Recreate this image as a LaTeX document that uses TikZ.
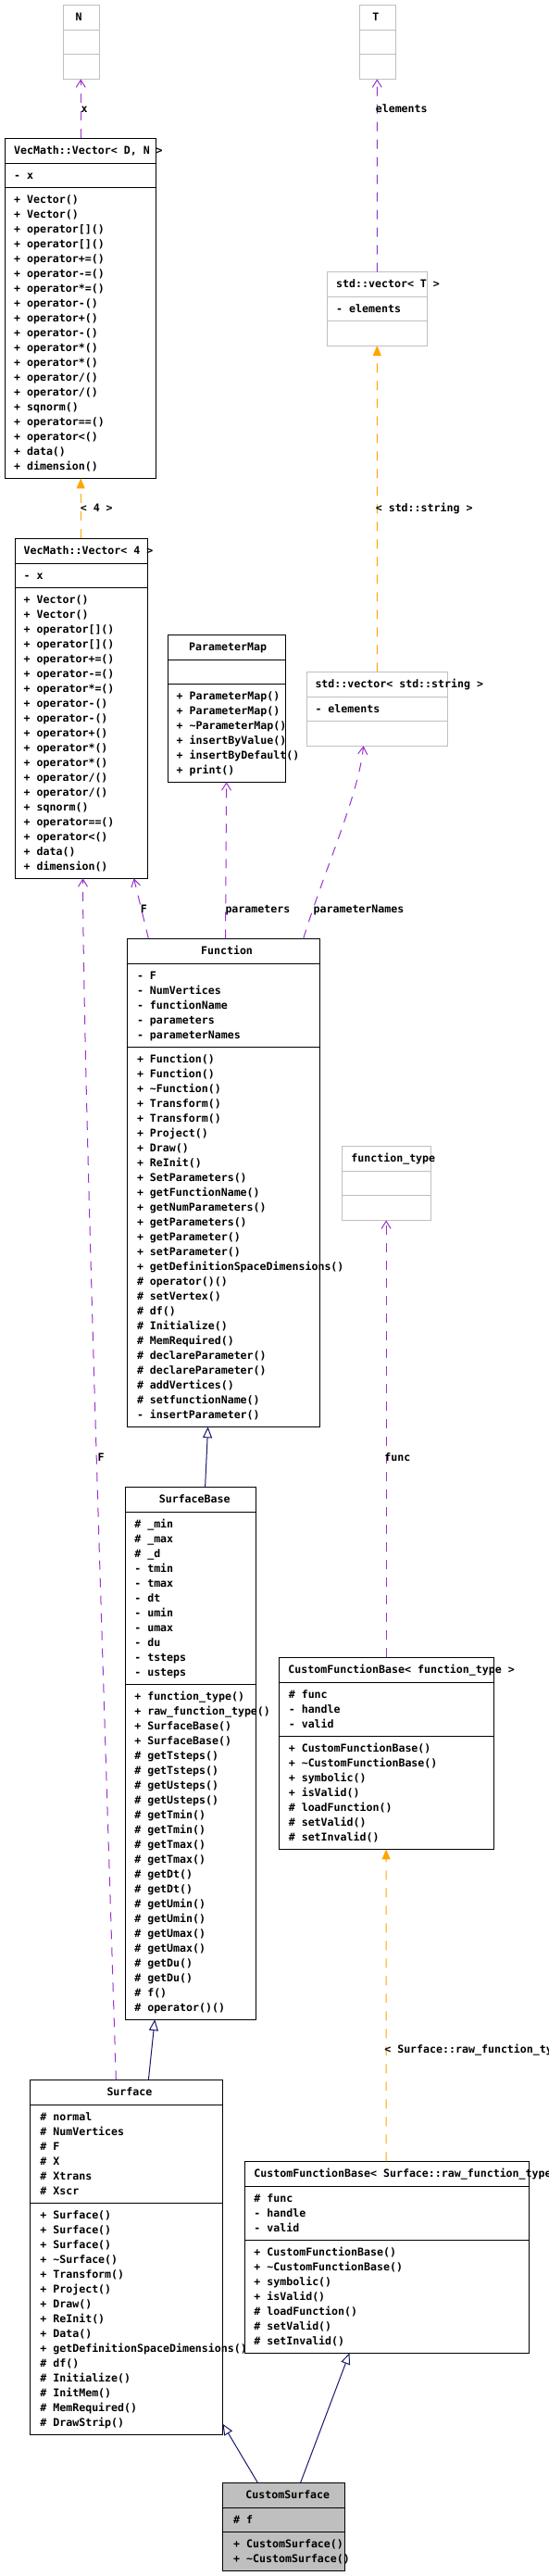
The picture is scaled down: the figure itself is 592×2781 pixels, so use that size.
\documentclass[tikz,border=0pt]{standalone}
\usepackage{fontspec}
\newfontfamily\dxfont{DejaVu Sans Mono Bold}
\usetikzlibrary{arrows.meta,calc}
\definecolor{dxpurple}{HTML}{9A32CD}
\definecolor{dxorange}{HTML}{FFA500}
\definecolor{dxnavy}{HTML}{191970}
\definecolor{dxgray}{HTML}{BFBFBF}
\tikzset{
  every node/.style={font=\dxfont\fontsize{11.6pt}{16pt}\selectfont, inner sep=0pt, outer sep=0pt},
  docbox/.style={draw=black, line width=1pt},
  extbox/.style={draw=dxgray, line width=1pt},
  curbox/.style={draw=black, fill=dxgray, line width=1pt},
  docsep/.style={draw=black, line width=1pt},
  extsep/.style={draw=dxgray, line width=1pt},
  cursep/.style={draw=black, line width=1pt},
  txt/.style={anchor=base west, text=black},
  uses/.style={draw=dxpurple, line width=1pt, dash pattern=on 10pt off 9pt, -{Straight Barb[length=8pt,width=10pt]}},
  tmpl/.style={draw=dxorange, line width=1pt, dash pattern=on 10pt off 9pt, -{Triangle[length=11pt,width=9pt]}},
  inh/.style={draw=dxnavy, line width=1pt, -{Triangle[open,length=12pt,width=10pt]}},
}
\newcommand\dxbox[8]{%
  \node[#2box, anchor=north west, minimum width={(#5)-(#3)}, minimum height={(#8)-(#4)}] (#1) at (#3,#4) {};
  \draw[#2sep] (#3,#6) -- (#5,#6);
  \draw[#2sep] (#3,#7) -- (#5,#7);
}
\newcommand\dxrows[4]{%
  \foreach \rowtext [count=\rowi from 0] in {#4} {\node[txt] (#1\rowi) at (#2,{#3+16*\rowi}) {\rowtext};}
}
\begin{document}
\begin{tikzpicture}[x=1pt,y=-1pt]
\useasboundingbox (0,0) rectangle (592,2781);
\clip (0,0) rectangle (592,2781);
\fill[white] (0,0) rectangle (592,2781);

% ---------- boxes ----------
\dxbox{nb}{ext}{68.3}{5.4}{107.6}{32.4}{58.4}{85.4}
\dxbox{tb}{ext}{388.4}{5.4}{427.3}{32.4}{58.4}{85.4}
\dxbox{vd}{doc}{5.3}{149.3}{168.4}{176.3}{202.4}{516.4}
\dxbox{svt}{ext}{353.3}{293.6}{461.3}{320.6}{346.6}{373.1}
\dxbox{vf}{doc}{16.2}{581.3}{159.7}{608.3}{634.3}{948.3}
\dxbox{pm}{doc}{181.2}{685.3}{308.4}{712.3}{738.3}{844.3}
\dxbox{svs}{ext}{331.4}{725.3}{483.2}{752.3}{778.3}{805.3}
\dxbox{fn}{doc}{137.4}{1013.3}{345.4}{1040.3}{1130.3}{1540.3}
\dxbox{ft}{ext}{369.2}{1237.5}{465.5}{1264.5}{1290.5}{1317.4}
\dxbox{sb}{doc}{135.5}{1605.2}{276.3}{1632.2}{1818.2}{2180.2}
\dxbox{cfa}{doc}{301.2}{1789.4}{533.4}{1816.4}{1874.4}{1996.4}
\dxbox{sf}{doc}{32.5}{2245.3}{240.5}{2272.3}{2378.3}{2628.3}
\dxbox{cfb}{doc}{264.3}{2333.3}{571.2}{2360.3}{2418.3}{2540.3}
\dxbox{cs}{cur}{240.8}{2680}{372.6}{2707}{2733}{2775.5}

% ---------- headers ----------
\node[txt] (nbh) at (81.5,22.4) {N};
\node[txt] (tbh) at (402.3,22.4) {T};
\node[txt] (vdh) at (15.1,166.3) {VecMath::Vector< D, N >};
\node[txt] (svth) at (363.2,310.6) {std::vector< T >};
\node[txt] (vfh) at (25.7,598.3) {VecMath::Vector< 4 >};
\node[txt] (pmh) at (204.2,702.3) {ParameterMap};
\node[txt] (svsh) at (340.5,742.3) {std::vector< std::string >};
\node[txt] (fnh) at (217.1,1030.3) {Function};
\node[txt] (fth) at (379.4,1254.5) {function\_type};
\node[txt] (sbh) at (171.8,1622.2) {SurfaceBase};
\node[txt] (cfah) at (311.4,1806.4) {CustomFunctionBase< function\_type >};
\node[txt] (sfh) at (115.5,2262.3) {Surface};
\node[txt] (cfbh) at (274.4,2350.3) {CustomFunctionBase< Surface::raw\_function\_type >};
\node[txt] (csh) at (265.4,2697) {CustomSurface};

% ---------- members ----------
\dxrows{vda}{15.1}{193.3}{{- x}}
\dxrows{vdm}{15.1}{219.4}{{+ Vector()},{+ Vector()},{+ operator[]()},{+ operator[]()},{+ operator+=()},{+ operator-=()},{+ operator*=()},{+ operator-()},{+ operator+()},{+ operator-()},{+ operator*()},{+ operator*()},{+ operator/()},{+ operator/()},{+ sqnorm()},{+ operator==()},{+ operator<()},{+ data()},{+ dimension()}}
\dxrows{svta}{363.2}{337.6}{{- elements}}
\dxrows{vfa}{25.7}{625.3}{{- x}}
\dxrows{vfm}{25.7}{651.3}{{+ Vector()},{+ Vector()},{+ operator[]()},{+ operator[]()},{+ operator+=()},{+ operator-=()},{+ operator*=()},{+ operator-()},{+ operator-()},{+ operator+()},{+ operator*()},{+ operator*()},{+ operator/()},{+ operator/()},{+ sqnorm()},{+ operator==()},{+ operator<()},{+ data()},{+ dimension()}}
\dxrows{pmm}{190.6}{755.3}{{+ ParameterMap()},{+ ParameterMap()},{+ \textasciitilde ParameterMap()},{+ insertByValue()},{+ insertByDefault()},{+ print()}}
\dxrows{svsa}{340.5}{769.3}{{- elements}}
\dxrows{fna}{148}{1057.3}{{- F},{- NumVertices},{- functionName},{- parameters},{- parameterNames}}
\dxrows{fnm}{148}{1147.3}{{+ Function()},{+ Function()},{+ \textasciitilde Function()},{+ Transform()},{+ Transform()},{+ Project()},{+ Draw()},{+ ReInit()},{+ SetParameters()},{+ getFunctionName()},{+ getNumParameters()},{+ getParameters()},{+ getParameter()},{+ setParameter()},{+ getDefinitionSpaceDimensions()},{\# operator()()},{\# setVertex()},{\# df()},{\# Initialize()},{\# MemRequired()},{\# declareParameter()},{\# declareParameter()},{\# addVertices()},{\# setfunctionName()},{- insertParameter()}}
\dxrows{sba}{145.3}{1649.2}{{\# \_min},{\# \_max},{\# \_d},{- tmin},{- tmax},{- dt},{- umin},{- umax},{- du},{- tsteps},{- usteps}}
\dxrows{sbm}{145.3}{1835.2}{{+ function\_type()},{+ raw\_function\_type()},{+ SurfaceBase()},{+ SurfaceBase()},{\# getTsteps()},{\# getTsteps()},{\# getUsteps()},{\# getUsteps()},{\# getTmin()},{\# getTmin()},{\# getTmax()},{\# getTmax()},{\# getDt()},{\# getDt()},{\# getUmin()},{\# getUmin()},{\# getUmax()},{\# getUmax()},{\# getDu()},{\# getDu()},{\# f()},{\# operator()()}}
\dxrows{cfaa}{311.8}{1833.4}{{\# func},{- handle},{- valid}}
\dxrows{cfam}{311.8}{1891.4}{{+ CustomFunctionBase()},{+ \textasciitilde CustomFunctionBase()},{+ symbolic()},{+ isValid()},{\# loadFunction()},{\# setValid()},{\# setInvalid()}}
\dxrows{sfa}{43.4}{2289.3}{{\# normal},{\# NumVertices},{\# F},{\# X},{\# Xtrans},{\# Xscr}}
\dxrows{sfm}{43.4}{2395.3}{{+ Surface()},{+ Surface()},{+ Surface()},{+ \textasciitilde Surface()},{+ Transform()},{+ Project()},{+ Draw()},{+ ReInit()},{+ Data()},{+ getDefinitionSpaceDimensions()},{\# df()},{\# Initialize()},{\# InitMem()},{\# MemRequired()},{\# DrawStrip()}}
\dxrows{cfba}{274.4}{2377.3}{{\# func},{- handle},{- valid}}
\dxrows{cfbm}{274.4}{2435.3}{{+ CustomFunctionBase()},{+ \textasciitilde CustomFunctionBase()},{+ symbolic()},{+ isValid()},{\# loadFunction()},{\# setValid()},{\# setInvalid()}}
\dxrows{csa}{252.2}{2724}{{\# f}}
\dxrows{csm}{252.2}{2750}{{+ CustomSurface()},{+ \textasciitilde CustomSurface()}}

% ---------- connectors ----------
\draw[uses] ($(vd.north west)+(81.9,0)$) -- ($(nb.south west)+(18.9,0)$);
\draw[uses] ($(svt.north west)+(54,0)$) -- ($(tb.south west)+(18.9,0)$);
\draw[tmpl] ($(vf.north west)+(71,0)$) -- ($(vd.south west)+(81.9,0)$);
\draw[tmpl] ($(svs.north west)+(75.9,0)$) -- ($(svt.south west)+(54,0)$);
\draw[uses] ($(fn.north west)+(23,0)$) -- ($(vf.south west)+(128.4,0)$);
\draw[uses] ($(sf.north west)+(92.8,0)$) .. controls (108,1700) and (90,1150) .. ($(vf.south west)+(73.3,0)$);
\draw[uses] ($(fn.north west)+(106.1,0)$) -- ($(pm.south west)+(63.4,0)$);
\draw[uses] ($(fn.north west)+(190.3,0)$) .. controls (350,940) and (387,860) .. ($(svs.south west)+(61.2,0)$);
\draw[uses] ($(cfa.north west)+(115.9,0)$) -- ($(ft.south west)+(47.9,0)$);
\draw[inh] ($(sb.north west)+(86.1,0)$) -- ($(fn.south west)+(87.2,0)$);
\draw[inh] ($(sf.north west)+(127.9,0)$) -- ($(sb.south west)+(31.7,0)$);
\draw[tmpl] ($(cfb.north west)+(152.8,0)$) -- ($(cfa.south west)+(115.9,0)$);
\draw[inh] ($(cs.north west)+(37.4,0)$) -- ($(sf.north east)+(0,371.4)$);
\draw[inh] ($(cs.north west)+(83.9,0)$) -- ($(cfb.south west)+(113.2,0)$);

% ---------- connector labels ----------
\node[txt] (lx) at (87.6,121.9) {x};
\node[txt] (lel) at (405.8,121.1) {elements};
\node[txt] (l4) at (86.8,552.6) {< 4 >};
\node[txt] (lss) at (405.8,552.6) {< std::string >};
\node[txt] (lf1) at (151.8,985) {F};
\node[txt] (lpar) at (243.5,985) {parameters};
\node[txt] (lpn) at (338.6,985) {parameterNames};
\node[txt] (lf2) at (105.7,1577) {F};
\node[txt] (lfunc) at (415.3,1577) {func};
\node[txt] (lraw) at (415.3,2216.7) {< Surface::raw\_function\_type >};
\end{tikzpicture}
\end{document}
